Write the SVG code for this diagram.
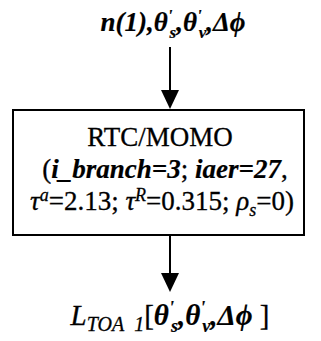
<svg xmlns="http://www.w3.org/2000/svg" width="321" height="341" viewBox="0 0 321 341">
<style>
text{font-family:"Liberation Serif","Times New Roman",serif;fill:#000;stroke:#000;stroke-width:0.3}
.bi{font-style:italic;font-weight:bold;stroke-width:0.2}
.i{font-style:italic}
.conn{stroke:#000;stroke-width:2;fill:none}
.head{fill:#000}
</style>
<g id="connectors">
<line class="conn" x1="170" y1="47" x2="170" y2="91"/>
<path class="head" d="M161,90 L179,90 L170,109 Z"/>
<line class="conn" x1="170" y1="236" x2="170" y2="274"/>
<path class="head" d="M161,273 L179,273 L170,292 Z"/>
</g>
<g id="input">
<text x="173" y="31" font-size="27" text-anchor="middle" class="bi">n(1),θ<tspan font-size="17" dy="-10">'</tspan><tspan font-size="17" dx="-3" dy="17">s</tspan><tspan dy="-7">,θ</tspan><tspan font-size="17" dy="-10">'</tspan><tspan font-size="17" dx="-3" dy="17">v</tspan><tspan dy="-7">,Δϕ</tspan></text>
</g>
<g id="rtc">
<rect x="13" y="110" width="291" height="125" fill="#fff" stroke="#000" stroke-width="2"/>
<text x="160" y="146" font-size="27" text-anchor="middle">RTC/MOMO</text>
<text x="165" y="178" font-size="27" text-anchor="middle">(<tspan class="bi">i_branch=3</tspan>; <tspan class="bi">iaer=27</tspan>,</text>
<text x="162" y="210" font-size="27" text-anchor="middle"><tspan class="i">τ</tspan><tspan class="i" font-size="18" dy="-9">a</tspan><tspan dy="9">=2.13; </tspan><tspan class="i">τ</tspan><tspan class="i" font-size="18" dy="-9">R</tspan><tspan dy="9">=0.315; </tspan><tspan class="i">ρ</tspan><tspan class="i" font-size="18" dy="6">s</tspan><tspan dy="-6">=0)</tspan></text>
</g>
<g id="output">
<text x="170" y="325" font-size="29" text-anchor="middle"><tspan class="i">L</tspan><tspan class="i" font-size="20" dy="6">TOA&#160; 1</tspan><tspan dy="-6">[</tspan><tspan class="bi">θ</tspan><tspan class="bi" font-size="18" dy="-11">'</tspan><tspan class="bi" font-size="18" dx="-3" dy="18">s</tspan><tspan class="bi" dy="-7">,θ</tspan><tspan class="bi" font-size="18" dy="-11">'</tspan><tspan class="bi" font-size="18" dx="-3" dy="18">v</tspan><tspan class="bi" dy="-7">,Δϕ</tspan>&#160;]</text>
</g>
</svg>
